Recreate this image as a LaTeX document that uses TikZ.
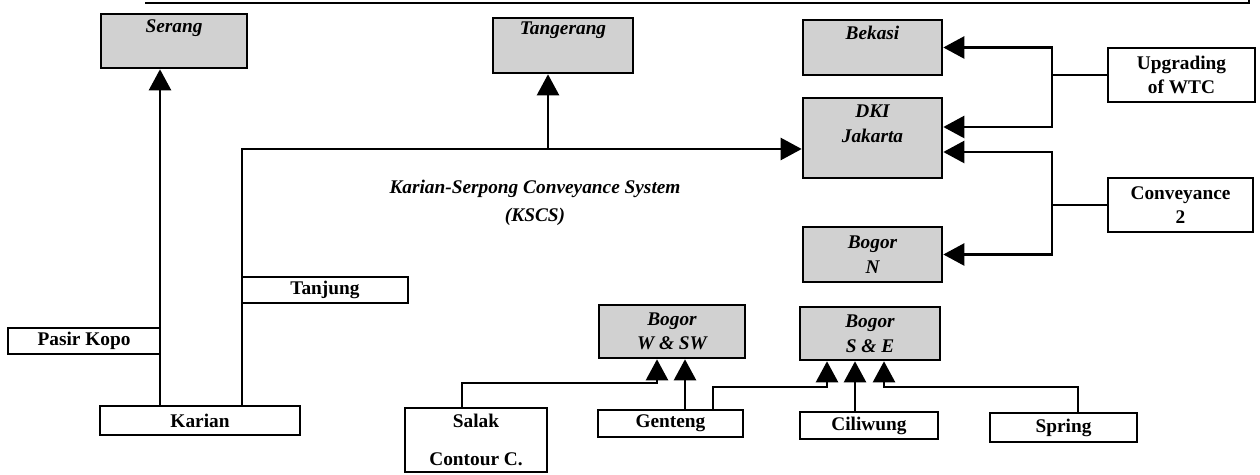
\documentclass[tikz,border=0pt]{standalone}
\usepackage{fontspec}
\setmainfont{Liberation Serif}
\usetikzlibrary{arrows.meta,calc}
\begin{document}
\begin{tikzpicture}[x=0.02cm,y=-0.02cm,
  shbox/.style={draw, line width=1.5pt, fill=black!18, inner sep=0pt, align=center,
    font=\fontsize{11}{14}\selectfont\bfseries\itshape},
  wbox/.style={draw, line width=1.5pt, fill=white, inner sep=0pt, align=center,
    font=\fontsize{11}{14}\selectfont\bfseries},
  lbl/.style={inner sep=0pt, align=center, font=\fontsize{11}{14}\selectfont\bfseries\itshape},
  conn/.style={line width=1.3pt},
  arr/.style={line width=1.4pt, -{Triangle[width=0.44cm,length=0.42cm]}}]
\useasboundingbox (0,0) rectangle (1260,475);
% cut-off frame at the top
\draw[conn] (145,3) -- (1249,3) -- (1249,0);

% shaded destination boxes
\node[shbox, minimum width=2.92cm, minimum height=1.08cm] (serang) at (174,41) {};
\node[lbl] (serangt) at ($(serang.north)+(0,15)$) {Serang};
\node[shbox, minimum width=2.80cm, minimum height=1.10cm] (tangerang) at (563,45.5) {};
\node[lbl] (tangerangt) at ($(tangerang.north)+(0,14)$) {Tangerang};
\node[shbox, minimum width=2.78cm, minimum height=1.10cm] (bekasi) at (872.5,47.5) {};
\node[lbl] (bekasit) at ($(bekasi.north)+(0,14)$) {Bekasi};
\node[shbox, minimum width=2.78cm, minimum height=1.60cm] (dki) at (872.5,138) {};
\node[lbl] (dkit) at ($(dki.north)+(0,27)$) {DKI\\Jakarta};
\node[shbox, minimum width=2.78cm, minimum height=1.10cm] (bogorN) at (872.5,254.5) {Bogor\\N};
\node[shbox, minimum width=2.92cm, minimum height=1.06cm] (bogorW) at (672,331.5) {Bogor\\W \& SW};
\node[shbox, minimum width=2.80cm, minimum height=1.06cm] (bogorSE) at (870,333.5) {Bogor\\S \& E};

% white source boxes
\node[wbox, minimum width=2.94cm, minimum height=1.08cm] (wtc) at (1181.5,75) {Upgrading\\of WTC};
\node[wbox, minimum width=2.90cm, minimum height=1.08cm] (conv2) at (1180.5,205) {Conveyance\\2};
\node[wbox, minimum width=3.32cm, minimum height=0.52cm] (tanjung) at (325,290) {Tanjung};
\node[wbox, minimum width=3.04cm, minimum height=0.52cm] (pasir) at (84,341) {Pasir Kopo};
\node[wbox, minimum width=4.00cm, minimum height=0.58cm] (karian) at (200,420.5) {Karian};
\node[wbox, minimum width=2.84cm, minimum height=1.28cm] (salak) at (476,440) {Salak\\[8pt]Contour C.};
\node[wbox, minimum width=2.90cm, minimum height=0.54cm] (genteng) at (670.5,423.5) {Genteng};
\node[wbox, minimum width=2.76cm, minimum height=0.54cm] (ciliwung) at (869,425.5) {Ciliwung};
\node[wbox, minimum width=2.94cm, minimum height=0.58cm] (spring) at (1063.5,427.5) {Spring};

% KSCS label
\node[lbl] (kscs) at (535,203) {Karian-Serpong Conveyance System\\[2pt](KSCS)};

% helper coordinates
\coordinate (xA) at (160,0);
\coordinate (xB) at (242,0);
\coordinate (xT) at (548,0);
\coordinate (yK) at (0,149);
\coordinate (xR) at (1052,0);
\coordinate (y1) at (0,127);
\coordinate (y2) at (0,152);
\coordinate (xS) at (462,0);
\coordinate (yB1) at (0,383);
\coordinate (yB2) at (0,387);
\coordinate (xW1) at (657,0);
\coordinate (xW2) at (685,0);
\coordinate (xG) at (713,0);
\coordinate (xE1) at (827,0);
\coordinate (xE2) at (855,0);
\coordinate (xE3) at (884,0);
\coordinate (xSp) at (1078,0);

% connectors
\draw[arr] (karian.north -| xA) -- (serang.south -| xA);
\draw[arr] (karian.north -| xB) |- (dki.west |- yK);
\draw[arr] (xT |- yK) -- (tangerang.south -| xT);

\draw[arr] (wtc.west) -- (wtc.west -| xR) |- (bekasi.east);
\draw[arr] (wtc.west -| xR) |- (dki.east |- y1);
\draw[arr] (conv2.west) -- (conv2.west -| xR) |- (dki.east |- y2);
\draw[arr] (conv2.west -| xR) |- (bogorN.east);

\draw[arr] (salak.north -| xS) |- (xW1 |- yB1) -- (bogorW.south -| xW1);
\draw[arr] (genteng.north -| xW2) -- (bogorW.south -| xW2);
\draw[arr] (genteng.north -| xG) |- (xE1 |- yB2) -- (bogorSE.south -| xE1);
\draw[arr] (ciliwung.north -| xE2) -- (bogorSE.south -| xE2);
\draw[arr] (spring.north -| xSp) |- (xE3 |- yB2) -- (bogorSE.south -| xE3);
\end{tikzpicture}
\end{document}
